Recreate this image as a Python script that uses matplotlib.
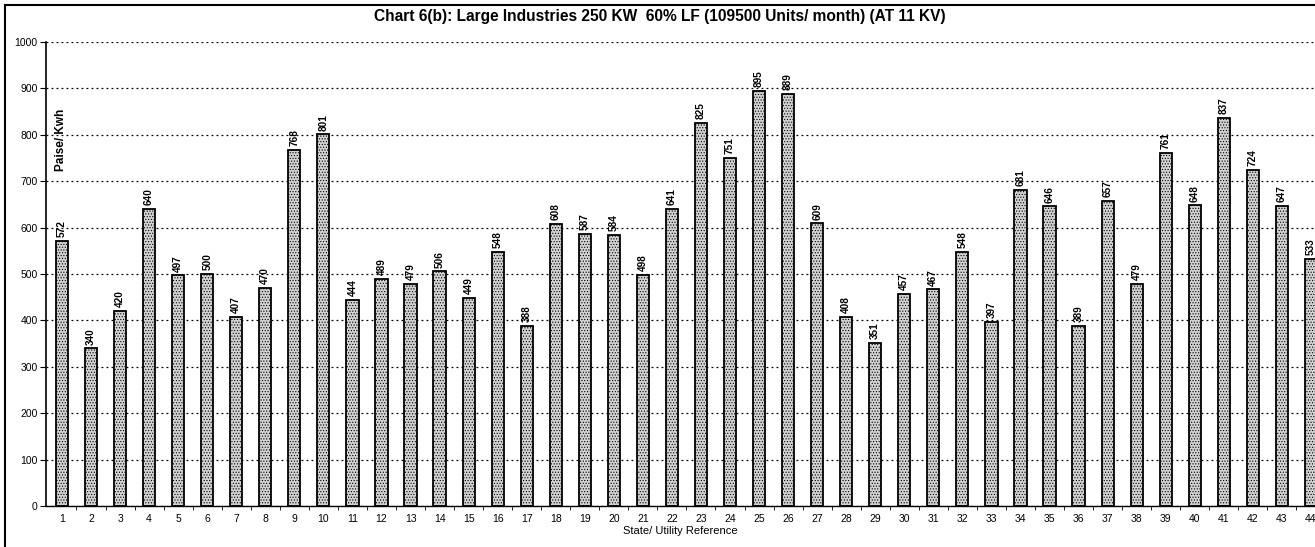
import numpy as np
import matplotlib
matplotlib.use('Agg')
import matplotlib.pyplot as plt

plt.rcParams['font.family'] = ['Liberation Sans', 'DejaVu Sans']
plt.rcParams['hatch.color'] = '#8f8f8f'
plt.rcParams['hatch.linewidth'] = 0.5

# data
refs = list(range(1, 45))
paise = [572, 340, 420, 640, 497, 500, 407, 470, 768, 801,
         444, 489, 479, 506, 449, 548, 388, 608, 587, 584,
         498, 641, 825, 751, 895, 889, 609, 408, 351, 457,
         467, 548, 397, 681, 646, 389, 657, 479, 761, 648,
         837, 724, 647, 533]
yticks = list(range(0, 1001, 100))

title = 'Chart 6(b): Large Industries 250 KW  60% LF (109500 Units/ month) (AT 11 KV)'

fig = plt.figure(figsize=(13.15, 5.47), dpi=100)
W, H = 1315, 547
ax = fig.add_axes([46 / W, 41 / H, (W - 46) / W, (506 - 42) / H])

ax.bar(refs, paise, width=0.42, facecolor='#d2d2d2', edgecolor='black',
       linewidth=1.3, hatch='......', zorder=3)

for x, v in zip(refs, paise):
    ax.text(x, v + 8, str(v), rotation=90, ha='center', va='bottom',
            fontsize=7.2, fontweight='bold', zorder=4)

ax.set_xlim(0.45, 44.14)
ax.set_ylim(0, 1000)
ax.set_yticks(yticks)
ax.set_yticklabels([str(t) for t in yticks], fontsize=7.5)
ax.set_xticks(refs)
ax.set_xticklabels([str(r) for r in refs], fontsize=7.5)
ax.set_xticks(np.arange(1.5, 44, 1), minor=True)
ax.tick_params(axis='x', which='major', length=0, pad=6)
ax.tick_params(axis='x', which='minor', length=3, direction='out')
ax.tick_params(axis='y', length=4, direction='out', pad=2)

ax.yaxis.grid(True, color='black', linestyle=(0, (1.5, 2.5)), linewidth=0.9)
ax.set_axisbelow(True)
for s in ['top', 'right']:
    ax.spines[s].set_visible(False)
ax.spines['left'].set_linewidth(1.2)
ax.spines['bottom'].set_linewidth(1.0)

ax.set_xlabel('State/ Utility Reference', fontsize=8, labelpad=1)
ax.text(0.012, 0.79, 'Paise/ Kwh', transform=ax.transAxes, rotation=90,
        ha='center', va='center', fontsize=8.5, fontweight='bold')

fig.text(660 / W, 1 - 17 / H, title, ha='center', va='center',
         fontsize=11.2, fontweight='bold')

# frame lines of the scanned page
fig.add_artist(plt.Line2D([5 / W, 5 / W], [0, 1 - 5 / H], color='black', linewidth=1.5))
fig.add_artist(plt.Line2D([5 / W, 1], [1 - 5 / H, 1 - 5 / H], color='black', linewidth=1.5))

fig.savefig('out.png', dpi=100)
